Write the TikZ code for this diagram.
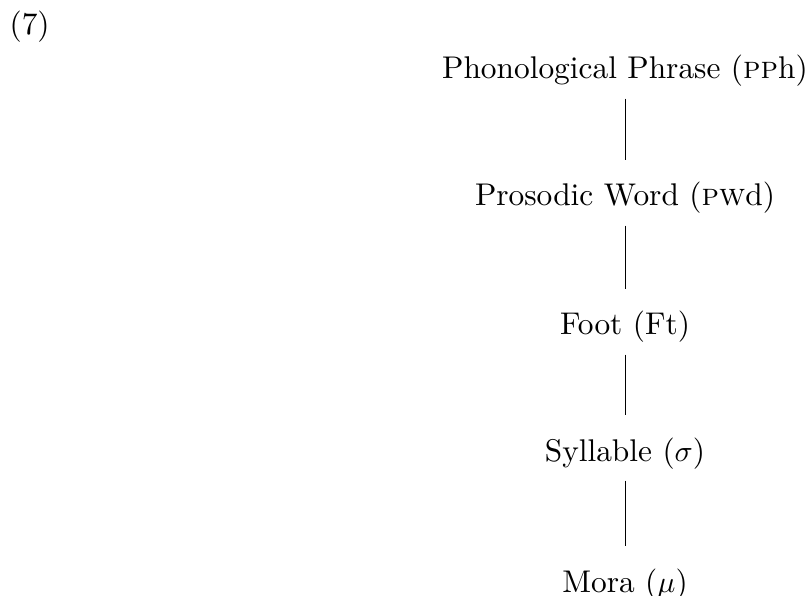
\documentclass[tikz,border=0pt]{standalone}
\usetikzlibrary{positioning}
\tikzset{level/.style={inner sep=0pt,anchor=base,text height=1.6ex,text depth=.5ex,
    font=\fontsize{10.45pt}{12.5pt}\selectfont},
  link/.style={line width=0.3pt,shorten <=4.2pt,shorten >=8.3pt}}
\begin{document}
\begin{tikzpicture}[x=0.333pt,y=0.333pt,yscale=-1]
\useasboundingbox (0,0) rectangle (807,596);
% example number
\node[level,anchor=base west] (ex) at (9,35) {(7)};
% levels of the hierarchy
\node[level] (pph) at (625,79) {Phonological Phrase (\textsc{pp}h)};
\node[level] (pwd) at (625,206) {Prosodic Word (\textsc{pw}d)};
\node[level] (ft) at (625,335) {Foot (Ft)};
\node[level] (syl) at (625,461) {Syllable ($\sigma$)};
\node[level] (mora) at (625,592) {Mora ($\mu$)};
% links
\draw[link] (pph) -- (pwd);
\draw[link] (pwd) -- (ft);
\draw[link] (ft) -- (syl);
\draw[link] (syl) -- (mora);
\end{tikzpicture}
\end{document}
